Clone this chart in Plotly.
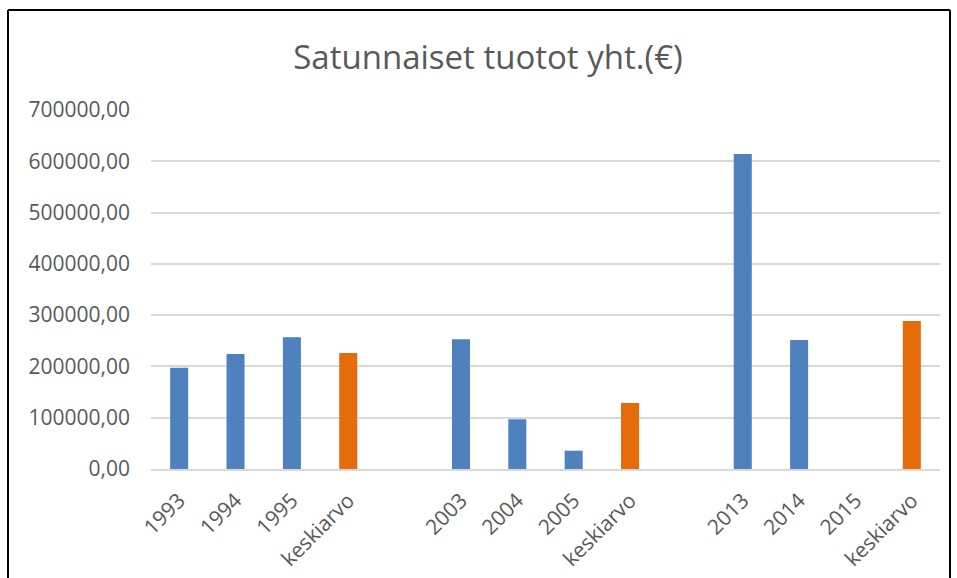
import plotly.graph_objects as go

labels = ["1993", "1994", "1995", "keskiarvo", "", "2003", "2004", "2005", "keskiarvo", "",
          "2013", "2014", "2015", "keskiarvo"]
values = [197500, 224000, 257000, 226000, None, 253000, 97000, 35700, 128600, None,
          614000, 251500, 0, 288500]
kinds = ["year", "year", "year", "avg", "gap", "year", "year", "year", "avg", "gap",
         "year", "year", "year", "avg"]
y_ticks = [0, 100000, 200000, 300000, 400000, 500000, 600000, 700000]
y_tick_text = ["0,00", "100000,00", "200000,00", "300000,00", "400000,00",
               "500000,00", "600000,00", "700000,00"]
title_text = "Satunnaiset tuotot yht.(€)"

BLUE = "#4F81BD"
ORANGE = "#E46C0A"

xs = list(range(len(labels)))
colors = [ORANGE if k == "avg" else BLUE for k in kinds]
tick_pos = [i for i, k in enumerate(kinds) if k != "gap"]
tick_lab = [labels[i] for i in tick_pos]

fig = go.Figure()
fig.add_trace(go.Bar(
    x=xs, y=values, marker=dict(color=colors, line=dict(width=0)),
    width=0.32, hoverinfo="x+y",
))

W, H = 957, 578
L, R, T, B = 151, 940, 110, 469


def px_x(p):
    return (p - L) / (R - L)


def px_y(p):
    return (B - p) / (B - T)


fig.update_layout(
    width=W, height=H,
    margin=dict(l=L, r=W - R, t=T, b=H - B, autoexpand=False),
    paper_bgcolor="white", plot_bgcolor="white",
    showlegend=False,
    font=dict(family="Open Sans, Liberation Sans, sans-serif", color="#595959"),
    title=dict(text=title_text, x=488 / W, xanchor="center", y=1 - 57 / H, yanchor="middle",
               font=dict(size=33, color="#595959", family="Open Sans, sans-serif")),
    xaxis=dict(range=[-0.5, len(labels) - 0.5], tickmode="array", tickvals=tick_pos,
               ticktext=tick_lab, tickangle=-45, showgrid=False, zeroline=False,
               showline=True, linecolor="#D9D9D9", linewidth=2, ticks="",
               ticklabelstandoff=9, automargin=False,
               tickfont=dict(size=21, color="#595959")),
    yaxis=dict(range=[0, 700000], tickmode="array", tickvals=y_ticks, ticktext=y_tick_text,
               showgrid=True, gridcolor="#D9D9D9", gridwidth=1.5, zeroline=False,
               showline=False, ticks="", ticklabelstandoff=20, automargin=False,
               tickfont=dict(size=21, color="#595959")),
    shapes=[
        dict(type="line", xref="paper", yref="paper", x0=px_x(8), x1=px_x(8),
             y0=px_y(10), y1=px_y(600), line=dict(color="black", width=2)),
        dict(type="line", xref="paper", yref="paper", x0=px_x(8), x1=px_x(950),
             y0=px_y(10), y1=px_y(10), line=dict(color="black", width=2)),
        dict(type="line", xref="paper", yref="paper", x0=px_x(950), x1=px_x(950),
             y0=px_y(10), y1=px_y(600), line=dict(color="black", width=2)),
    ],
)

fig.write_html("out.html", config={"displayModeBar": False},
               post_script="document.body.style.margin='0';")
